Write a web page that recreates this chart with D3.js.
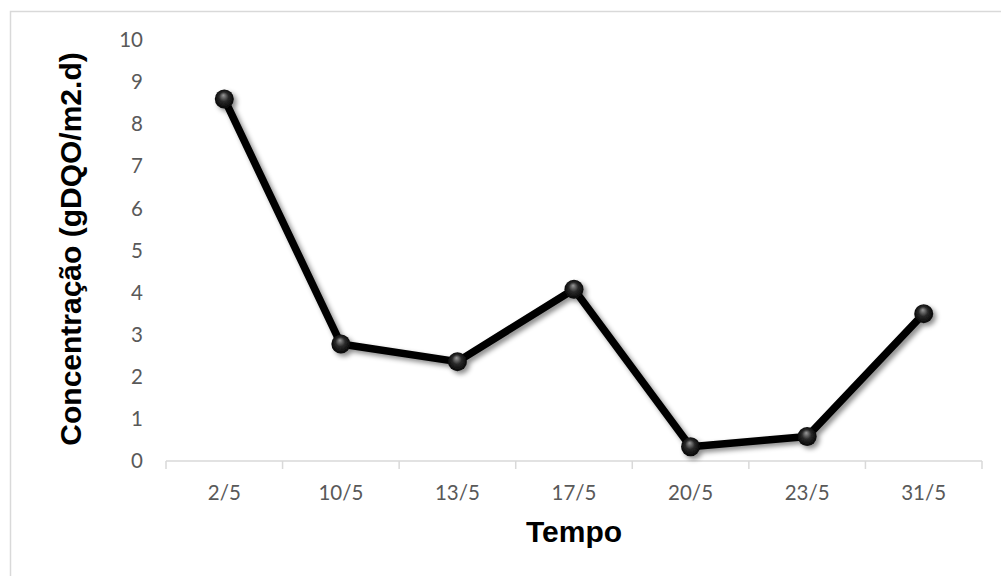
<!DOCTYPE html>
<html><head><meta charset="utf-8">
<script src="https://cdn.jsdelivr.net/npm/d3@7"></script>
<style>body{margin:0;background:#fff}svg{display:block}</style>
</head><body>
<script>
const categories = ["2/5","10/5","13/5","17/5","20/5","23/5","31/5"];
const values = [8.6, 2.78, 2.36, 4.08, 0.34, 0.58, 3.5];
const yTicks = [0,1,2,3,4,5,6,7,8,9,10];
const xTitle = "Tempo";
const yTitle = "Concentração (gDQO/m2.d)";

const W = 1001, H = 576;
const svg = d3.select("body").append("svg").attr("width", W).attr("height", H);
const defs = svg.append("defs");
const f = defs.append("filter").attr("id","sh").attr("x","-20%").attr("y","-20%").attr("width","140%").attr("height","140%");
f.append("feDropShadow").attr("dx",3).attr("dy",3).attr("stdDeviation",2.5).attr("flood-color","#000").attr("flood-opacity",0.45);
const g = defs.append("radialGradient").attr("id","ball").attr("cx","50%").attr("cy","50%").attr("r","55%").attr("fx","45%").attr("fy","30%");
g.append("stop").attr("offset","0%").attr("stop-color","#9a9a9a");
g.append("stop").attr("offset","45%").attr("stop-color","#2a2a2a");
g.append("stop").attr("offset","100%").attr("stop-color","#000");

svg.append("rect").attr("x",10.5).attr("y",11.5).attr("width",1000).attr("height",600)
  .attr("fill","none").attr("stroke","#d9d9d9").attr("stroke-width",1.5);

const x = d3.scaleBand().domain(categories).range([166, 982]).paddingInner(0).paddingOuter(0);
const y = d3.scaleLinear().domain([0,10]).range([461, 40]);

// x axis
const xa = svg.append("g").attr("transform","translate(0,461)");
xa.append("line").attr("x1",166).attr("x2",982).attr("stroke","#d9d9d9").attr("stroke-width",1.5);
const bounds = categories.map(c => x(c)).concat([x(categories[categories.length-1]) + x.bandwidth()]);
xa.selectAll("line.t").data(bounds).join("line").attr("class","t")
  .attr("x1",d=>d).attr("x2",d=>d).attr("y1",0).attr("y2",8).attr("stroke","#d9d9d9").attr("stroke-width",1.5);
xa.selectAll("text").data(categories).join("text")
  .attr("x",d=>x(d)+x.bandwidth()/2).attr("y",39).attr("text-anchor","middle")
  .attr("font-family","Lato, 'Open Sans', sans-serif").attr("font-size",20.5).attr("fill","#595959").text(d=>d);

// y tick labels
svg.append("g").selectAll("text").data(yTicks).join("text")
  .attr("x",143).attr("y",d=>y(d)).attr("dy","0.35em").attr("text-anchor","end")
  .attr("font-family","Lato, 'Open Sans', sans-serif").attr("font-size",20.5).attr("fill","#595959").text(d=>d);

// titles
svg.append("text").attr("x",574).attr("y",542).attr("text-anchor","middle")
  .attr("font-family","'Liberation Sans', Arial, sans-serif").attr("font-weight","bold").attr("font-size",30).attr("fill","#000").text(xTitle);
svg.append("text").attr("transform","translate(81,249) rotate(-90)").attr("text-anchor","middle")
  .attr("font-family","'Liberation Sans', Arial, sans-serif").attr("font-weight","bold").attr("font-size",30).attr("fill","#000").text(yTitle);

// line + markers
const pts = categories.map((c,i)=>[x(c)+x.bandwidth()/2, y(values[i])]);
const plot = svg.append("g").attr("filter","url(#sh)");
plot.append("path").attr("d", d3.line()(pts)).attr("fill","none").attr("stroke","#000").attr("stroke-width",7.5).attr("stroke-linejoin","round");
plot.selectAll("circle").data(pts).join("circle").attr("cx",d=>d[0]).attr("cy",d=>d[1]).attr("r",9.5).attr("fill","url(#ball)");
</script>
</body></html>
